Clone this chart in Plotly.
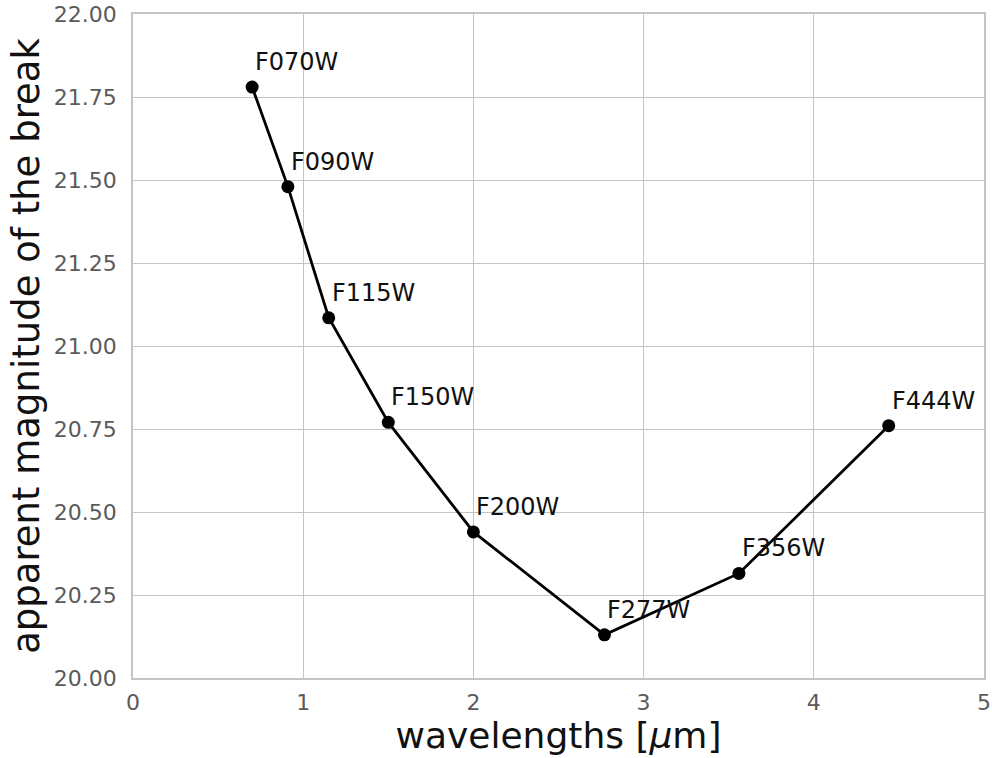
import plotly.graph_objects as go

# NIRCam wide filters: pivot wavelength (micron) and apparent magnitude of the break
filters = ["F070W", "F090W", "F115W", "F150W", "F200W", "F277W", "F356W", "F444W"]
wavelengths = [0.70, 0.91, 1.15, 1.50, 2.00, 2.77, 3.56, 4.44]
magnitudes = [21.78, 21.48, 21.085, 20.77, 20.44, 20.13, 20.315, 20.76]

x_ticks = [0, 1, 2, 3, 4, 5]
y_ticks = [20.00, 20.25, 20.50, 20.75, 21.00, 21.25, 21.50, 21.75, 22.00]

FONT = "DejaVu Sans"
GRID = "#c4c4c4"
TICK = "#5a5a5a"

fig = go.Figure()
fig.add_trace(go.Scatter(
    x=wavelengths, y=magnitudes, mode="lines+markers",
    line=dict(color="black", width=2.8),
    marker=dict(color="black", size=13),
    showlegend=False, hoverinfo="skip",
))

for name, xv, yv in zip(filters, wavelengths, magnitudes):
    fig.add_annotation(
        x=xv, y=yv, text=name, showarrow=False,
        xanchor="left", yanchor="bottom", xshift=1, yshift=9,
        font=dict(family=FONT, size=24, color="#111111"),
    )

axis_common = dict(
    showgrid=True, gridcolor=GRID, gridwidth=1,
    showline=True, linecolor=GRID, linewidth=1.5, mirror=True,
    zeroline=False, ticks="", automargin=False,
    tickfont=dict(family=FONT, size=22, color=TICK),
)

fig.update_xaxes(
    range=[0, 5], tickvals=x_ticks, ticktext=[str(v) for v in x_ticks],
    title=dict(text="wavelengths [<i>μ</i>m]", font=dict(family=FONT, size=36, color="#111111"), standoff=8),
    ticklabelstandoff=4,
    **axis_common,
)
fig.update_yaxes(
    range=[20, 22], tickvals=y_ticks, ticktext=[f"{v:.2f}" for v in y_ticks],
    title=dict(text="apparent magnitude of the break", font=dict(family=FONT, size=37, color="#111111"), standoff=3),
    ticklabelstandoff=10,
    **axis_common,
)

fig.update_layout(
    width=992, height=758,
    margin=dict(l=133, r=8, t=14, b=80, pad=0),
    paper_bgcolor="white", plot_bgcolor="white",
    font=dict(family=FONT),
)

fig.write_html("out.html")
